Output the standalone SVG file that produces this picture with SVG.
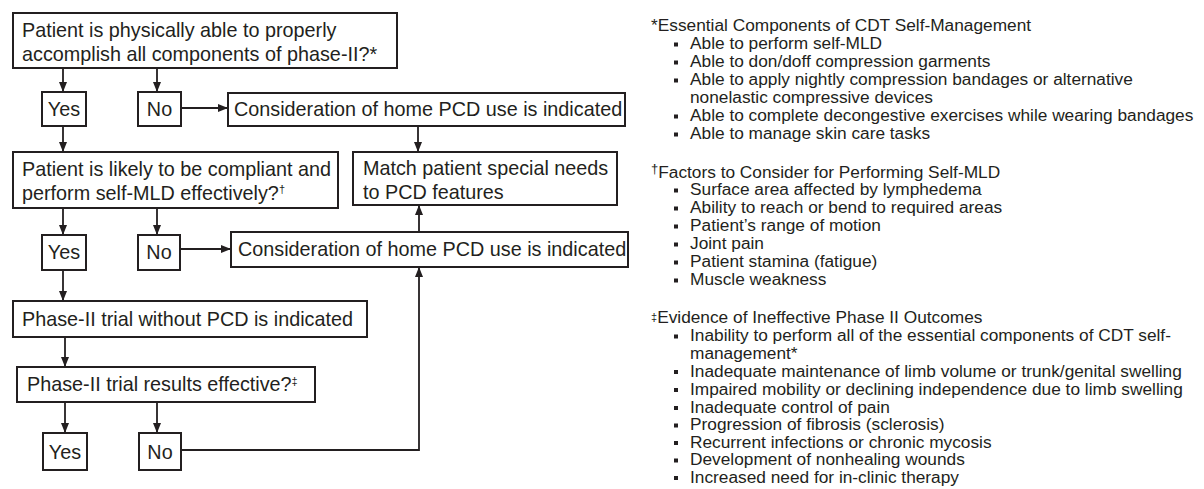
<svg xmlns="http://www.w3.org/2000/svg" width="1204" height="489" viewBox="0 0 1204 489">
<defs>
<marker id="ah" markerUnits="userSpaceOnUse" markerWidth="10" markerHeight="8" refX="10" refY="4" orient="auto">
<path d="M0,0 L10,4 L0,8 z" fill="#231f20"/>
</marker>
<style>
.box{fill:#fff;stroke:#231f20;stroke-width:2}
.t{font-family:"Liberation Sans",Arial,sans-serif;font-size:19.8px;fill:#231f20}
.c{text-anchor:middle}
.n{font-family:"Liberation Sans",Arial,sans-serif;font-size:17.3px;fill:#231f20}
.conn{fill:none;stroke:#231f20;stroke-width:1.8}
.arr{marker-end:url(#ah)}
.bul{fill:#231f20}
.sup{font-size:11px}
</style>
</defs>
<rect width="1204" height="489" fill="#fff"/>

<g id="connectors">
<line class="conn arr" x1="63" y1="68" x2="63" y2="92"/>
<line class="conn arr" x1="157" y1="68" x2="157" y2="92"/>
<line class="conn arr" x1="181" y1="108" x2="228" y2="108"/>
<line class="conn arr" x1="63" y1="126" x2="63" y2="152"/>
<line class="conn arr" x1="418" y1="126" x2="418" y2="152"/>
<line class="conn arr" x1="63" y1="208" x2="63" y2="235"/>
<line class="conn arr" x1="157" y1="208" x2="157" y2="235"/>
<line class="conn arr" x1="419" y1="232" x2="419" y2="205"/>
<line class="conn arr" x1="180" y1="249" x2="231" y2="249"/>
<line class="conn arr" x1="63" y1="270" x2="63" y2="301"/>
<line class="conn arr" x1="65" y1="337" x2="65" y2="367"/>
<line class="conn arr" x1="65" y1="402" x2="65" y2="433"/>
<line class="conn arr" x1="157" y1="402" x2="157" y2="433"/>
<polyline class="conn arr" points="181,450 419,450 419,267"/>
</g>

<g id="q1">
<rect class="box" x="13" y="13" width="384" height="55"/>
<text class="t" x="22" y="37">Patient is physically able to properly</text>
<text class="t" x="22" y="61">accomplish all components of phase-II?*</text>
</g>
<g id="yes1">
<rect class="box" x="42" y="92" width="44" height="34"/>
<text class="t c" x="64" y="116">Yes</text>
</g>
<g id="no1">
<rect class="box" x="138" y="92" width="43" height="34"/>
<text class="t c" x="159.5" y="116">No</text>
</g>
<g id="pcd1">
<rect class="box" x="228" y="93" width="397" height="33"/>
<text class="t" x="234" y="116">Consideration of home PCD use is indicated</text>
</g>
<g id="q2">
<rect class="box" x="13" y="152" width="325" height="56"/>
<text class="t" x="22" y="176">Patient is likely to be compliant and</text>
<text class="t" x="22" y="200">perform self-MLD effectively?<tspan class="sup" dy="-7">†</tspan></text>
</g>
<g id="match">
<rect class="box" x="353" y="152" width="264" height="53"/>
<text class="t" x="363" y="175">Match patient special needs</text>
<text class="t" x="363" y="199">to PCD features</text>
</g>
<g id="yes2">
<rect class="box" x="42" y="235" width="44" height="35"/>
<text class="t c" x="64" y="259">Yes</text>
</g>
<g id="no2">
<rect class="box" x="138" y="235" width="42" height="35"/>
<text class="t c" x="159" y="259">No</text>
</g>
<g id="pcd2">
<rect class="box" x="231" y="232" width="397" height="35"/>
<text class="t" x="238" y="256">Consideration of home PCD use is indicated</text>
</g>
<g id="trial">
<rect class="box" x="13" y="301" width="354" height="36"/>
<text class="t" x="22" y="326">Phase-II trial without PCD is indicated</text>
</g>
<g id="q3">
<rect class="box" x="17" y="367" width="298" height="35"/>
<text class="t" x="27" y="391">Phase-II trial results effective?<tspan class="sup" dy="-6">‡</tspan></text>
</g>
<g id="yes3">
<rect class="box" x="43" y="433" width="44" height="37"/>
<text class="t c" x="65" y="459">Yes</text>
</g>
<g id="no3">
<rect class="box" x="139" y="433" width="42" height="37"/>
<text class="t c" x="160" y="459">No</text>
</g>

<g id="note1">
<text class="n" x="651" y="31">*Essential Components of CDT Self-Management</text>
<rect class="bul" x="674" y="42.5" width="4" height="4"/>
<text class="n" x="690" y="49">Able to perform self-MLD</text>
<rect class="bul" x="674" y="60.5" width="4" height="4"/>
<text class="n" x="690" y="67">Able to don/doff compression garments</text>
<rect class="bul" x="674" y="78.5" width="4" height="4"/>
<text class="n" x="690" y="85">Able to apply nightly compression bandages or alternative</text>
<text class="n" x="690" y="103">nonelastic compressive devices</text>
<rect class="bul" x="674" y="114.5" width="4" height="4"/>
<text class="n" x="690" y="121">Able to complete decongestive exercises while wearing bandages</text>
<rect class="bul" x="674" y="132.5" width="4" height="4"/>
<text class="n" x="690" y="139">Able to manage skin care tasks</text>
</g>
<g id="note2">
<text class="n" x="651" y="178"><tspan font-size="13" dy="-5">†</tspan><tspan dy="5">Factors to Consider for Performing Self-MLD</tspan></text>
<rect class="bul" x="674" y="188.5" width="4" height="4"/>
<text class="n" x="690" y="195">Surface area affected by lymphedema</text>
<rect class="bul" x="674" y="206.5" width="4" height="4"/>
<text class="n" x="690" y="213">Ability to reach or bend to required areas</text>
<rect class="bul" x="674" y="224.5" width="4" height="4"/>
<text class="n" x="690" y="231">Patient’s range of motion</text>
<rect class="bul" x="674" y="242.5" width="4" height="4"/>
<text class="n" x="690" y="249">Joint pain</text>
<rect class="bul" x="674" y="260.5" width="4" height="4"/>
<text class="n" x="690" y="267">Patient stamina (fatigue)</text>
<rect class="bul" x="674" y="278.5" width="4" height="4"/>
<text class="n" x="690" y="285">Muscle weakness</text>
</g>
<g id="note3">
<text class="n" x="651" y="323"><tspan font-size="11" dy="-2">‡</tspan><tspan dy="2">Evidence of Ineffective Phase II Outcomes</tspan></text>
<rect class="bul" x="674" y="334.5" width="4" height="4"/>
<text class="n" x="690" y="341">Inability to perform all of the essential components of CDT self-</text>
<text class="n" x="690" y="359">management*</text>
<rect class="bul" x="674" y="370" width="4" height="4"/>
<text class="n" x="690" y="376.5">Inadequate maintenance of limb volume or trunk/genital swelling</text>
<rect class="bul" x="674" y="388" width="4" height="4"/>
<text class="n" x="690" y="394.5">Impaired mobility or declining independence due to limb swelling</text>
<rect class="bul" x="674" y="406" width="4" height="4"/>
<text class="n" x="690" y="412.5">Inadequate control of pain</text>
<rect class="bul" x="674" y="423.5" width="4" height="4"/>
<text class="n" x="690" y="430">Progression of fibrosis (sclerosis)</text>
<rect class="bul" x="674" y="441" width="4" height="4"/>
<text class="n" x="690" y="447.5">Recurrent infections or chronic mycosis</text>
<rect class="bul" x="674" y="458.5" width="4" height="4"/>
<text class="n" x="690" y="465">Development of nonhealing wounds</text>
<rect class="bul" x="674" y="476" width="4" height="4"/>
<text class="n" x="690" y="482.5">Increased need for in-clinic therapy</text>
</g>
</svg>
